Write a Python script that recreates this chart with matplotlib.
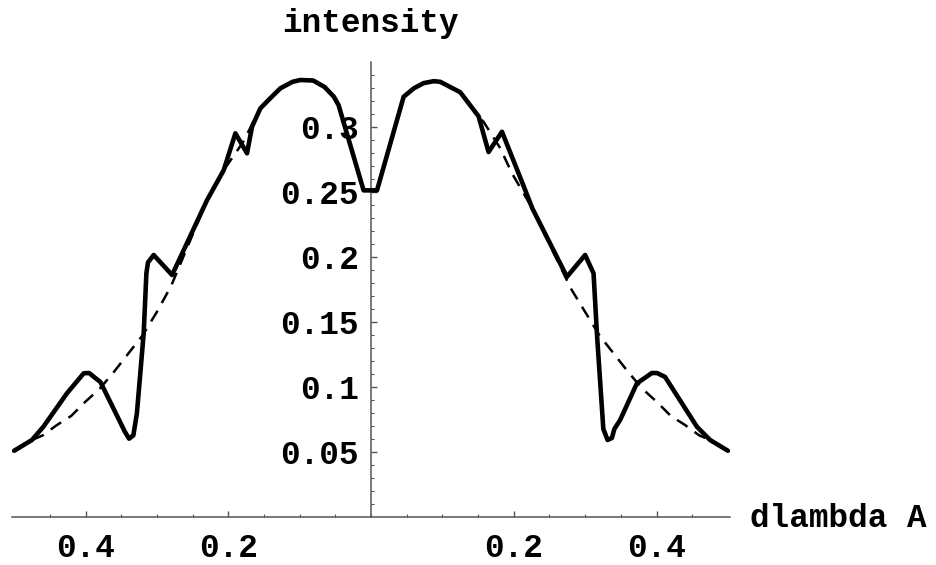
import matplotlib
matplotlib.use("Agg")
import matplotlib.pyplot as plt
import numpy as np

# ---- data ----
solid_x = [-0.500, -0.475, -0.459, -0.426, -0.4025, -0.395, -0.379, -0.345, -0.339, -0.333,
           -0.328, -0.3185, -0.3147, -0.3125, -0.3045, -0.2787, -0.2297, -0.2064, -0.190,
           -0.1737, -0.1667, -0.155, -0.140, -0.127, -0.110, -0.099, -0.081, -0.065, -0.052,
           -0.0454, -0.0104, 0.0084, 0.0457, 0.060, 0.0737, 0.088, 0.097, 0.125, 0.1507,
           0.1647, 0.1835, 0.2137, 0.226, 0.2745, 0.300, 0.3118, 0.3165, 0.3255, 0.3315,
           0.3375, 0.341, 0.349, 0.3725, 0.3935, 0.4006, 0.412, 0.4566, 0.475, 0.500]
solid_y = [0.0512, 0.0595, 0.0697, 0.0954, 0.1108, 0.1110, 0.1040, 0.0660, 0.0605, 0.0630,
           0.0800, 0.1415, 0.1877, 0.1960, 0.2018, 0.1864, 0.2440, 0.2670, 0.2954,
           0.2800, 0.3005, 0.3146, 0.3230, 0.3300, 0.3350, 0.3364, 0.3360, 0.3310, 0.3235,
           0.3170, 0.2515, 0.2515, 0.3235, 0.3300, 0.3340, 0.3355, 0.3350, 0.3270, 0.3085,
           0.2810, 0.2966, 0.2550, 0.2377, 0.1850, 0.2018, 0.1877, 0.1415, 0.0680, 0.0595,
           0.0610, 0.0680, 0.0748, 0.1030, 0.1110, 0.1110, 0.1080, 0.0697, 0.0595, 0.0512]

dash_x = [-0.500, -0.475, -0.46, -0.44, -0.42, -0.40, -0.38, -0.36, -0.34, -0.32, -0.30,
          -0.28, -0.2297, -0.2064, -0.18, -0.155, -0.140, -0.127, -0.110, -0.099, -0.081,
          -0.065, -0.052, -0.0454, -0.0104, 0.0084, 0.0457, 0.060, 0.0737, 0.088, 0.097,
          0.125, 0.1507, 0.158, 0.181, 0.1975, 0.226, 0.28, 0.30, 0.32, 0.34, 0.36, 0.38,
          0.40, 0.42, 0.44, 0.46, 0.475, 0.500]
dash_y = [0.0512, 0.0595, 0.063, 0.071, 0.078, 0.089, 0.099, 0.112, 0.126, 0.140, 0.158,
          0.178, 0.2440, 0.2670, 0.288, 0.3146, 0.3230, 0.3300, 0.3350, 0.3364, 0.3360,
          0.3310, 0.3235, 0.3170, 0.2515, 0.2515, 0.3235, 0.3300, 0.3340, 0.3355, 0.3350,
          0.3270, 0.3085, 0.3040, 0.2840, 0.2646, 0.2377, 0.176, 0.158, 0.140, 0.126,
          0.112, 0.099, 0.089, 0.078, 0.071, 0.063, 0.0595, 0.0512]

x_ticks = [-0.4, -0.2, 0.2, 0.4]
x_tick_labels = ["0.4", "0.2", "0.2", "0.4"]
y_ticks = [0.05, 0.1, 0.15, 0.2, 0.25, 0.3]
y_tick_labels = ["0.05", "0.1", "0.15", "0.2", "0.25", "0.3"]

FONT = "Liberation Mono"
FS = 23.5

fig = plt.figure(figsize=(9.37, 5.65), dpi=100)
ax = fig.add_axes([0.0128, 0.0844, 0.7663, 0.8053])
ax.set_xlim(-0.503, 0.503)
ax.set_ylim(0, 0.35)

ax.plot(dash_x, dash_y, color="black", lw=1.8, dashes=(5.0, 3.5), zorder=3,
        solid_capstyle="butt", clip_on=False)
ax.plot(solid_x, solid_y, color="black", lw=3.3, zorder=4,
        solid_joinstyle="round", solid_capstyle="round", clip_on=False)

for s in ["top", "right"]:
    ax.spines[s].set_visible(False)
ax.spines["left"].set_position(("data", 0))
ax.spines["bottom"].set_position(("data", 0))
for s in ["left", "bottom"]:
    ax.spines[s].set_color("#555555")
    ax.spines[s].set_linewidth(1.1)

ax.set_xticks(x_ticks)
ax.set_xticklabels(x_tick_labels)
ax.set_xticks(np.arange(-0.45, 0.5, 0.05), minor=True)
ax.set_yticks(y_ticks)
ax.set_yticklabels(y_tick_labels)
ax.set_yticks(np.arange(0.01, 0.35, 0.01), minor=True)

ax.tick_params(axis="both", which="major", direction="in", length=4.5, width=1.0,
               color="#555555", labelsize=FS)
ax.tick_params(axis="both", which="minor", direction="in", length=2.5, width=0.8,
               color="#555555")
ax.tick_params(axis="x", which="major", pad=11)
ax.tick_params(axis="y", which="major", pad=9)
for lab in ax.get_xticklabels() + ax.get_yticklabels():
    lab.set_fontfamily(FONT)
    lab.set_fontweight("bold")
    lab.set_color("black")

fig.text(370.5 / 937, (565 - 32) / 565, "intensity", ha="center", va="baseline",
         fontfamily=FONT, fontweight="bold", fontsize=FS)
fig.text(750 / 937, (565 - 527) / 565, "dlambda A", ha="left", va="baseline",
         fontfamily=FONT, fontweight="bold", fontsize=FS)

fig.savefig("out.png", dpi=100, facecolor="white")
